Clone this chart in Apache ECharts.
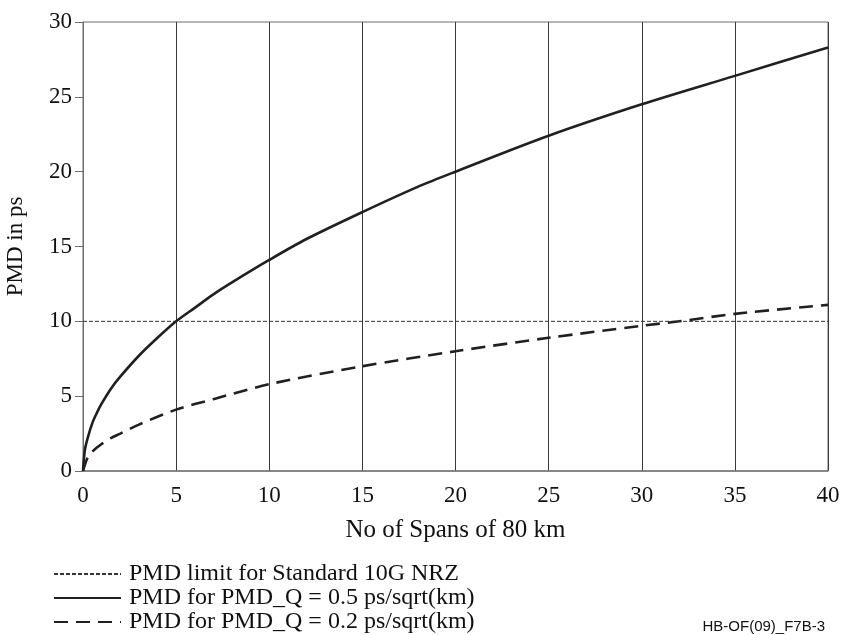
<!DOCTYPE html>
<html>
<head>
<meta charset="utf-8">
<script src="https://cdn.jsdelivr.net/npm/echarts@6/dist/echarts.min.js"></script>
<style>html,body{margin:0;padding:0;background:#fff}#c{width:844px;height:635px}</style>
</head>
<body>
<div id="c"></div>
<script>
var spansQ05 = [0, 0.1, 0.25, 0.5, 0.75, 1, 1.5, 2, 3, 4, 5, 6, 7, 8, 10, 12, 15, 18, 20, 25, 30, 35, 40];
var pmdQ05  = [0, 1.4, 2.2, 3.2, 3.9, 4.5, 5.5, 6.3, 7.7, 8.9, 10.0, 10.9, 11.8, 12.6, 14.1, 15.5, 17.3, 19.0, 20.0, 22.4, 24.5, 26.4, 28.3];
var spansQ02 = [0, 0.25, 0.5, 1, 1.5, 2, 3, 5, 7, 10, 15, 20, 25, 30, 32, 35, 40];
var pmdQ02  = [0, 0.9, 1.3, 1.8, 2.2, 2.5, 3.1, 4.1, 4.8, 5.8, 7.0, 8.0, 8.9, 9.7, 10.0, 10.5, 11.1];
var limitSpans = [0, 40];
var limitValue = [10, 10];
var xTicks = [0, 5, 10, 15, 20, 25, 30, 35, 40];
var yTicks = [0, 5, 10, 15, 20, 25, 30];
var seriesNames = ['PMD limit for Standard 10G NRZ', 'PMD for PMD_Q = 0.5 ps/sqrt(km)', 'PMD for PMD_Q = 0.2 ps/sqrt(km)'];

function zip(a, b) { return a.map(function (v, i) { return [v, b[i]]; }); }

var serif = '"Liberation Serif", "Times New Roman", serif';
function legendRow(name, top) {
  return {
    orient: 'vertical', left: 53, top: top, itemWidth: 67, itemHeight: 14, padding: 0,
    itemStyle: { opacity: 0 },
    textStyle: { fontFamily: serif, fontSize: 24, lineHeight: 22, color: '#111', padding: [0, 0, 0, 3] },
    data: [name]
  };
}
var chart = echarts.init(document.getElementById('c'));
chart.setOption({
  animation: false,
  grid: { left: 83, top: 22, right: 16, bottom: 164, outerBoundsMode: 'none', containLabel: false,
          show: true, borderColor: '#6d6d6d', borderWidth: 1, backgroundColor: 'transparent' },
  xAxis: {
    type: 'value', min: xTicks[0], max: xTicks[xTicks.length - 1], interval: 5,
    name: 'No of Spans of 80 km', nameLocation: 'middle', nameGap: 47,
    nameTextStyle: { fontFamily: serif, fontSize: 25, color: '#111' },
    axisLine: { show: true, lineStyle: { color: '#7a7a7a', width: 1.5 } },
    axisTick: { show: false },
    axisLabel: { fontFamily: serif, fontSize: 23, color: '#111', margin: 13 },
    splitLine: { show: true, lineStyle: { color: '#3a3a3a', width: 1 } }
  },
  yAxis: {
    type: 'value', min: yTicks[0], max: yTicks[yTicks.length - 1], interval: 5,
    name: 'PMD in ps', nameLocation: 'middle', nameGap: 56,
    nameTextStyle: { fontFamily: serif, fontSize: 23, color: '#111' },
    axisLine: { show: true, lineStyle: { color: '#6d6d6d', width: 1 } },
    axisTick: { show: true, length: 8, lineStyle: { color: '#6d6d6d' } },
    axisLabel: { fontFamily: serif, fontSize: 23, color: '#111', margin: 11 },
    splitLine: { show: false }
  },
  legend: [legendRow(seriesNames[0], 562), legendRow(seriesNames[1], 586), legendRow(seriesNames[2], 610)],
  series: [
    { name: seriesNames[0], type: 'line', symbol: 'none', data: zip(limitSpans, limitValue),
      lineStyle: { color: '#333', width: 1, type: [4, 2] }, itemStyle: { color: '#333' } },
    { name: seriesNames[1], type: 'line', symbol: 'none', smooth: 0.3, data: zip(spansQ05, pmdQ05),
      lineStyle: { color: '#231f20', width: 2.6, type: 'solid' }, itemStyle: { color: '#231f20' } },
    { name: seriesNames[2], type: 'line', symbol: 'none', smooth: 0.3, data: zip(spansQ02, pmdQ02),
      lineStyle: { color: '#231f20', width: 2.6, type: [14, 8] }, itemStyle: { color: '#231f20' } }
  ],
  graphic: [
    { type: 'text', right: 19, top: 619, style: { text: 'HB-OF(09)_F7B-3', font: '15px "Liberation Sans", Arial, sans-serif', fill: '#111' } }
  ]
});
</script>
</body>
</html>
